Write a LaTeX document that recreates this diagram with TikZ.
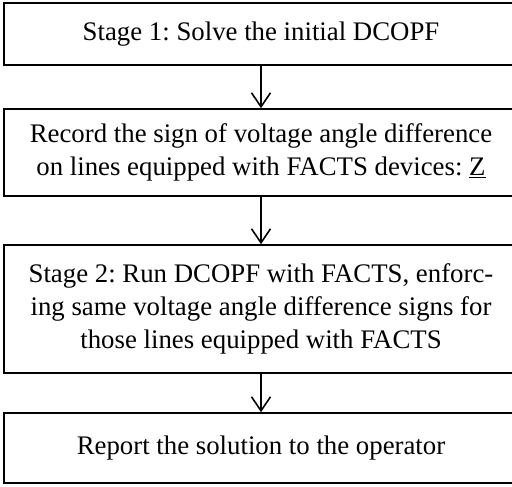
\documentclass[tikz,border=0pt]{standalone}
\usepackage{fontspec}
\setmainfont{Liberation Serif}
\usetikzlibrary{arrows.meta}
\frenchspacing

\begin{document}
\begin{tikzpicture}[x=1pt, y=-1pt,
		stagebox/.style={draw, line width=1.6pt, minimum width=514pt, inner sep=0pt,
			align=center, font=\fontsize{26.8}{33}\selectfont},
		flowarrow/.style={line width=1.6pt, -{Straight Barb[length=14pt, width=19pt, line width=1.6pt]}}]
		%%%%% START %%%%%
		
		\useasboundingbox (0, 0) rectangle (512, 487);
		
		\node[stagebox, minimum height=62pt] (solve) at (261, 34) {Stage 1: Solve the initial DCOPF};
		\node[stagebox, minimum height=87pt] (record) at (261, 152.5) {Record the sign of voltage angle difference\\on lines equipped with FACTS devices: \underline{Z}};
		\node[stagebox, minimum height=128pt] (enforce) at (261, 309) {Stage 2: Run DCOPF with FACTS, enforc-\\ing same voltage angle difference signs for\\those lines equipped with FACTS};
		\node[stagebox, minimum height=70pt] (report) at (261, 448) {Report the solution to the operator};
		
		\draw[flowarrow] (solve.south) -- (record.north);
		\draw[flowarrow] (record.south) -- (enforce.north);
		\draw[flowarrow] (enforce.south) -- (report.north);
		
		%%%%% END %%%%%
	\end{tikzpicture}
\end{document}
